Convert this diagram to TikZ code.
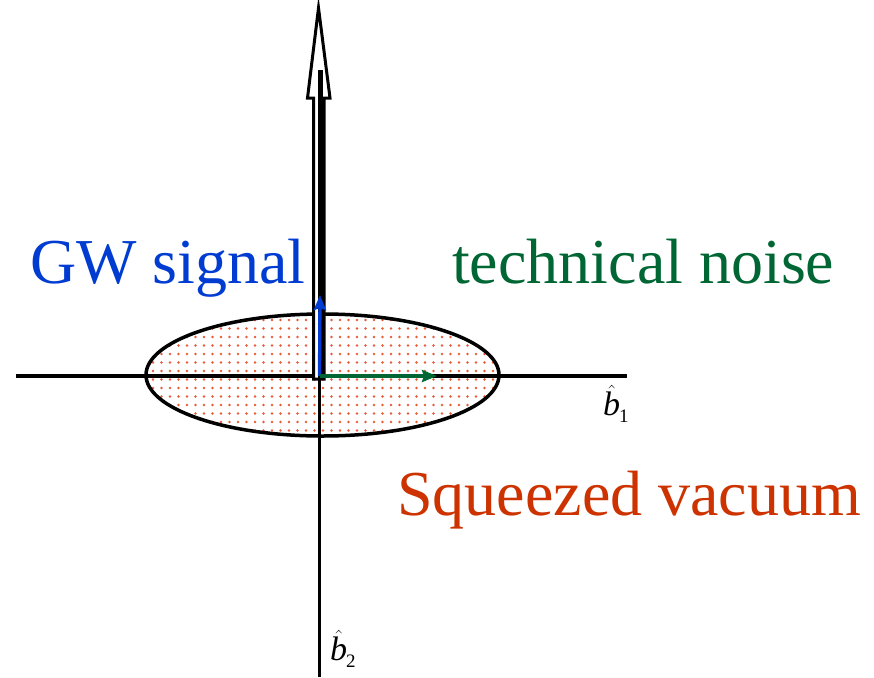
\documentclass[tikz,border=0pt]{standalone}
\usepackage{fontspec}
\setmainfont{Liberation Serif}
\usetikzlibrary{arrows.meta,patterns.meta,shapes.geometric}
\definecolor{gwblue}{RGB}{0,60,210}
\definecolor{tngreen}{RGB}{0,102,51}
\definecolor{sqred}{RGB}{204,51,0}
\definecolor{dotred}{RGB}{232,90,55}
\tikzset{
  axis/.style={line width=3.3pt,black},
  bigtext/.style={anchor=base west,inner sep=0pt,font=\fontsize{64}{70}\selectfont},
  axlabel/.style={anchor=base west,inner sep=0pt,font=\fontsize{34}{36}\selectfont},
  vec/.style={line width=3.3pt,-{Stealth[length=15pt,width=12pt,inset=2pt]}},
}
\newcommand{\hatb}[1]{$\hat{\textit{b}}$\kern-1pt\raisebox{-7pt}{\fontsize{19}{19}\selectfont #1}}
\begin{document}
\begin{tikzpicture}[x=1pt,y=-1pt]
\useasboundingbox (0,0) rectangle (874,677);
% squeezed ellipse
\node[draw=black,line width=3.5pt,ellipse,minimum width=353pt,minimum height=122pt,inner sep=0pt,
  pattern={Dots[distance=8.5pt,radius=1.3pt]},pattern color=dotred] (sq) at (322.5,375) {};
% axes
\coordinate (O) at (319.5,376);
\coordinate (xl) at (16,376);
\coordinate (xr) at (627,376);
\coordinate (yb) at (319.5,677);
\draw[axis] (xl) -- (xr);
\draw[axis] (O) -- (yb);
% big hollow arrow
\coordinate (sbl) at (313.5,379);
\coordinate (sbr) at (324,379);
\coordinate (hl) at (307.5,98);
\coordinate (hr) at (330,98);
\coordinate (tip) at (318.5,8);
\coordinate (thtop) at (320.5,70);
\coordinate (thbot) at (320.5,378);
\draw[line width=3pt,fill=white,line join=miter,miter limit=20]
  (sbl) -- (313.5,98) -- (hl) -- (tip) -- (hr) -- (324,98) -- (sbr) -- cycle;
\draw[line width=5.5pt] (thbot) -- (thtop);
% vectors
\coordinate (gwend) at (320,295);
\coordinate (tnend) at (437,376);
\draw[vec,gwblue] (O) -- (gwend);
\draw[vec,tngreen] (O) -- (tnend);
% texts
\node[bigtext,text=gwblue] (gw) at (30,283) {GW signal};
\node[bigtext,text=tngreen] (tn) at (452,283) {technical noise};
\node[bigtext,text=sqred] (sv) at (397,515) {Squeezed vacuum};
\node[axlabel] (b1) at (603,415) {\hatb{1}};
\node[axlabel] (b2) at (330,660) {\hatb{2}};
\end{tikzpicture}
\end{document}
